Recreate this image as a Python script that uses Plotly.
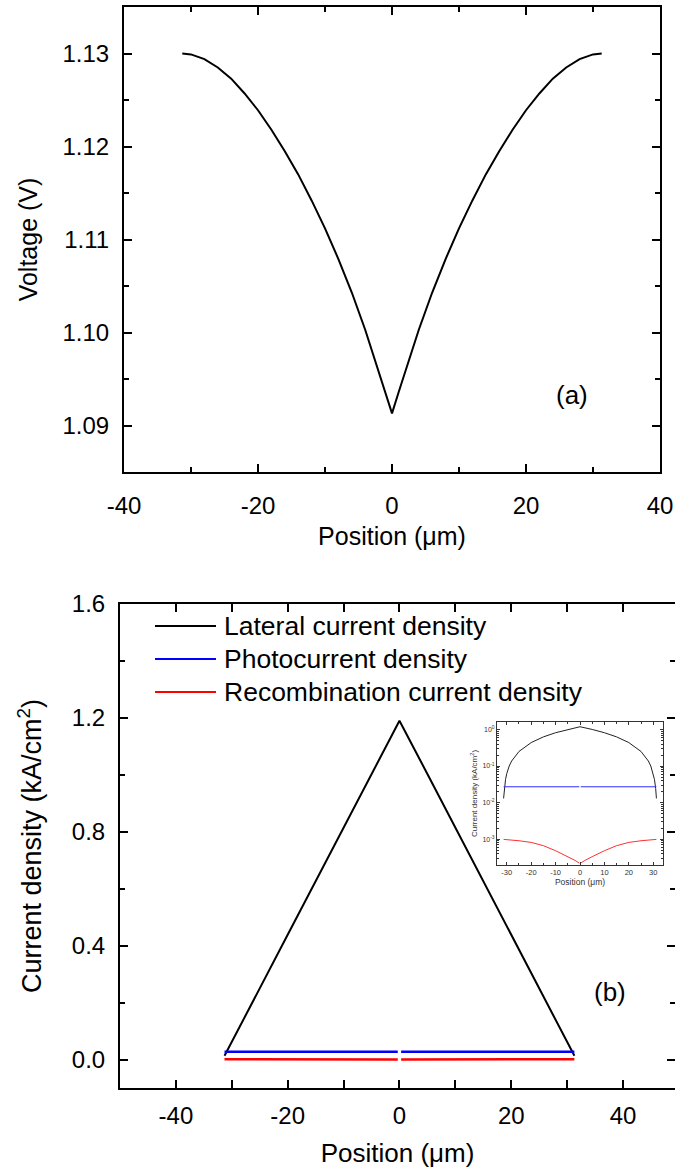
import plotly.graph_objects as go

# ---------------- data ----------------
# (a) voltage profile
pos_a = [-31.3, -30, -28, -26, -24, -22, -20, -18, -16, -14, -12, -10, -8, -6, -4, -2, -1, 0,
         1, 2, 4, 6, 8, 10, 12, 14, 16, 18, 20, 22, 24, 26, 28, 30, 31.3]
volt_a = [1.1300, 1.1299, 1.1294, 1.1285, 1.1273, 1.1257, 1.1239, 1.1218, 1.1195, 1.1170,
          1.1142, 1.1112, 1.1079, 1.1043, 1.1003, 1.0959, 1.0936, 1.0913,
          1.0936, 1.0959, 1.1003, 1.1043, 1.1079, 1.1112, 1.1142, 1.1170, 1.1195, 1.1218,
          1.1239, 1.1257, 1.1273, 1.1285, 1.1294, 1.1299, 1.1300]

# (b) current densities (kA/cm^2)
pos_lat = [-31.3, -31.0, -30.5, -30, -29, -28, -25, -20, -15, -10, -5, 0,
           5, 10, 15, 20, 25, 28, 29, 30, 30.5, 31.0, 31.3]
lateral = [0.013, 0.024, 0.043, 0.062, 0.100, 0.137, 0.250, 0.438, 0.627, 0.815, 1.003, 1.190,
           1.003, 0.815, 0.627, 0.438, 0.250, 0.137, 0.100, 0.062, 0.043, 0.024, 0.013]

pos_ph = [-31.3, -0.3, None, 0.3, 31.3]
photo = [0.027, 0.027, None, 0.027, 0.027]

pos_rec = [-31.3, -30, -25, -20, -15, -10, -5, -2, -0.3, None,
           0.3, 2, 5, 10, 15, 20, 25, 30, 31.3]
recomb = [0.00098, 0.00097, 0.00090, 0.00081, 0.00066, 0.00048, 0.00033, 0.00026, 0.00022, None,
          0.00022, 0.00026, 0.00033, 0.00048, 0.00066, 0.00081, 0.00090, 0.00097, 0.00098]

series_names = ["Lateral current density", "Photocurrent density", "Recombination current density"]
series_colors = ["black", "#0000ff", "#ff0000"]

xa_ticks = [-40, -20, 0, 20, 40]
xa_text = ["-40", "-20", "0", "20", "40"]
inset_xticks = [-30, -20, -10, 0, 10, 20, 30]
inset_xtext = ["-30", "-20", "-10", "0", "10", "20", "30"]
inset_tickvals = [1, 0.1, 0.01, 0.001]
inset_ticktext = ["10<sup>0</sup>", "10<sup>-1</sup>", "10<sup>-2</sup>", "10<sup>-3</sup>"]

# ---------------- layout helpers ----------------
W, H = 675, 1171
FONT = "Liberation Sans, Arial, sans-serif"


def px_x(p):
    return p / W


def px_y(p):
    return 1 - p / H


def main_axis(**kw):
    d = dict(showline=True, linewidth=2, linecolor="black", ticks="inside", ticklen=8,
             tickwidth=2, tickcolor="black", showgrid=False, zeroline=False,
             mirror="allticks", automargin=False,
             tickfont=dict(size=24, color="black", family=FONT),
             minor=dict(ticks="inside", ticklen=5, tickwidth=2, tickcolor="black", showgrid=False))
    d.update(kw)
    return d


fig = go.Figure()

# (a)
fig.add_trace(go.Scatter(x=pos_a, y=volt_a, mode="lines", line=dict(color="black", width=2),
                         xaxis="x", yaxis="y", showlegend=False))

# (b) main
fig.add_trace(go.Scatter(x=pos_lat, y=lateral, mode="lines", name=series_names[0],
                         line=dict(color=series_colors[0], width=2), xaxis="x2", yaxis="y2",
                         showlegend=False))
fig.add_trace(go.Scatter(x=pos_ph, y=photo, mode="lines", name=series_names[1],
                         line=dict(color=series_colors[1], width=2.5), xaxis="x2", yaxis="y2",
                         showlegend=False, connectgaps=False))
fig.add_trace(go.Scatter(x=pos_rec, y=recomb, mode="lines", name=series_names[2],
                         line=dict(color=series_colors[2], width=2.5), xaxis="x2", yaxis="y2",
                         showlegend=False, connectgaps=False))
# right-side tick axis for (b)
fig.add_trace(go.Scatter(x=[None], y=[None], xaxis="x2", yaxis="y4", showlegend=False,
                         hoverinfo="skip"))

# inset (log)
fig.add_trace(go.Scatter(x=pos_lat, y=lateral, mode="lines", line=dict(color="#222222", width=1),
                         xaxis="x3", yaxis="y3", showlegend=False))
fig.add_trace(go.Scatter(x=pos_ph, y=photo, mode="lines", line=dict(color="#3030ff", width=1),
                         xaxis="x3", yaxis="y3", showlegend=False, connectgaps=False))
fig.add_trace(go.Scatter(x=pos_rec, y=recomb, mode="lines", line=dict(color="#ff3030", width=1),
                         xaxis="x3", yaxis="y3", showlegend=False, connectgaps=False))

fig.update_layout(
    width=W, height=H, margin=dict(l=0, r=0, t=0, b=0),
    paper_bgcolor="white", plot_bgcolor="white",
    font=dict(family=FONT, color="black"),
    xaxis=main_axis(domain=[px_x(124), px_x(660)], anchor="y", range=[-40, 40],
                    tickvals=xa_ticks, ticktext=xa_text, ticklabelstandoff=11,
                    minor=dict(ticks="inside", ticklen=5, tickwidth=2, tickcolor="black", dtick=10, tick0=0),
                    title=dict(text="Position (\u03bcm)", font=dict(size=25, family=FONT), standoff=10)),
    yaxis=main_axis(domain=[px_y(472), px_y(7)], anchor="x", range=[1.085, 1.135], dtick=0.01,
                    tick0=1.09, tickformat=".2f", ticklabelstandoff=8,
                    minor=dict(ticks="inside", ticklen=5, tickwidth=2, tickcolor="black", dtick=0.005, tick0=1.085),
                    title=dict(text="Voltage (V)", font=dict(size=25, family=FONT), standoff=18)),
    xaxis2=main_axis(domain=[px_x(120), 1], anchor="y2", range=[-50, 49.3],
                     tickvals=xa_ticks, ticktext=xa_text, ticklabelstandoff=5,
                     minor=dict(ticks="inside", ticklen=5, tickwidth=2, tickcolor="black", dtick=10, tick0=0),
                     title=dict(text="Position (\u03bcm)", font=dict(size=26, family=FONT), standoff=16)),
    yaxis2=main_axis(domain=[px_y(1088), px_y(604)], anchor="x2", range=[-0.1, 1.6], dtick=0.4,
                     tick0=0, tickformat=".1f", mirror=False, ticklabelstandoff=8,
                     minor=dict(ticks="inside", ticklen=5, tickwidth=2, tickcolor="black", dtick=0.2, tick0=0),
                     title=dict(text="Current density (kA/cm<sup>2</sup>)", font=dict(size=27, family=FONT),
                                standoff=22)),
    yaxis4=dict(overlaying="y2", side="right", anchor="x2", range=[-0.1, 1.6], dtick=0.4, tick0=0,
                showline=False, showticklabels=False, showgrid=False, zeroline=False,
                ticks="inside", ticklen=8, tickwidth=2, tickcolor="black",
                minor=dict(ticks="inside", ticklen=5, tickwidth=2, tickcolor="black", dtick=0.2, tick0=0)),
    xaxis3=dict(domain=[px_x(497), px_x(663)], anchor="y3", range=[-34, 34],
                tickvals=inset_xticks, ticktext=inset_xtext,
                showline=True, linewidth=1, linecolor="#333333", mirror="allticks",
                ticks="inside", ticklen=3, tickwidth=1, tickcolor="#333333",
                minor=dict(ticks="inside", ticklen=2, tickwidth=1, tickcolor="#333333", dtick=5, tick0=0),
                showgrid=False, zeroline=False, automargin=False,
                tickfont=dict(size=7.5, family=FONT, color="#333333"),
                title=dict(text="Position (\u03bcm)", font=dict(size=8.5, family=FONT, color="#333333"), standoff=3)),
    yaxis3=dict(domain=[px_y(865), px_y(722)], anchor="x3", type="log", range=[-3.71, 0.205],
                tickvals=inset_tickvals, ticktext=inset_ticktext,
                showline=True, linewidth=1, linecolor="#333333", mirror="allticks",
                ticks="inside", ticklen=3, tickwidth=1, tickcolor="#333333",
                minor=dict(ticks="inside", ticklen=2, tickwidth=1, tickcolor="#333333", dtick="D1"),
                showgrid=False, zeroline=False, automargin=False,
                tickfont=dict(size=7, family=FONT, color="#333333"),
                title=dict(text="Current density (kA/cm<sup>2</sup>)", font=dict(size=8, family=FONT, color="#333333"),
                           standoff=3)),
)

# panel labels
fig.add_annotation(text="(a)", x=px_x(590), y=px_y(395), xref="paper", yref="paper",
                   showarrow=False, font=dict(size=26, family=FONT, color="black"))
fig.add_annotation(text="(b)", x=px_x(628), y=px_y(1009), xref="paper", yref="paper",
                   showarrow=False, font=dict(size=26, family=FONT, color="black"))

# legend drawn as line samples + text
legend_rows = [626, 659, 692]
for name, color, ry in zip(series_names, series_colors, legend_rows):
    fig.add_shape(type="line", xref="paper", yref="paper", x0=px_x(155), x1=px_x(216),
                  y0=px_y(ry), y1=px_y(ry), line=dict(color=color, width=2))
    fig.add_annotation(text=name, x=px_x(222), y=px_y(ry), xref="paper", yref="paper",
                       xanchor="left", yanchor="middle", showarrow=False,
                       font=dict(size=26.5, family=FONT, color="black"))

fig.write_html("out.html")
